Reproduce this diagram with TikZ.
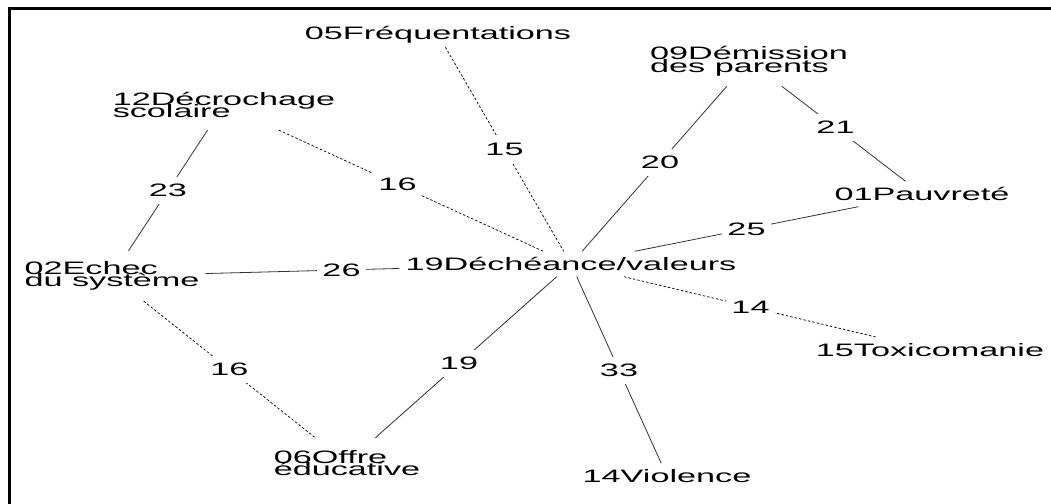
\documentclass[tikz,border=0pt]{standalone}
\usepackage{fontspec}
\setmainfont{Liberation Sans}[FakeStretch=1.9]
\usetikzlibrary{calc}
\newcommand{\diagfont}{\fontsize{18}{12.5}\selectfont\lineskiplimit=-50pt\relax\lineskip=0pt\relax}
\begin{document}
\begin{tikzpicture}[x=1pt,y=-1pt,
  txtfont/.style={font={\diagfont}},
  vtx/.style={txtfont, inner xsep=6pt, inner ysep=0pt, minimum height=25pt},
  vtxtwo/.style={vtx, align=left, minimum height=50pt},
  lab/.style={txtfont, fill=white, inner xsep=5pt, inner ysep=0pt, minimum height=27pt},
  solidedge/.style={draw=black!80, line width=0.8pt},
  dotedge/.style={draw=black, line width=0.7pt, dash pattern=on 2.5pt off 2pt},
  frameline/.style={line width=3pt, line cap=rect}]
\useasboundingbox (0,0) rectangle (1051,503);
\draw[frameline] (9.5,510) -- (9.5,8.7) -- (1060,8.7);

\node[vtx] (fre) at (438,34.5) {05Fréquentations};
\node[vtxtwo] (dem) at (749,61) {09Démission\\des parents};
\node[vtxtwo] (dec) at (224,105) {12Décrochage\\scolaire};
\node[vtx] (pau) at (922,194) {01Pauvreté};
\node[vtxtwo] (ech) at (112,276) {02Echec\\du système};
\node[vtx] (dech) at (571,264) {19Déchéance/valeurs};
\node[vtx] (tox) at (930,350) {15Toxicomanie};
\node[vtx] (vio) at (667,476) {14Violence};
\node[vtxtwo] (off) at (347,463) {06Offre\\éducative};

\draw[solidedge] (dec) -- (ech);
\draw[dotedge] (dec) -- (dech);
\draw[dotedge] (fre) -- (dech);
\draw[solidedge] (dem) -- (dech);
\draw[solidedge] (dem) -- (pau);
\draw[solidedge] (pau) -- (dech);
\draw[solidedge] (ech) -- (dech);
\draw[dotedge] (ech) -- (off);
\draw[solidedge] (off) -- (dech);
\draw[solidedge] (dech) -- (vio);
\draw[dotedge] (dech) -- (tox);

\node[lab] (l23) at ($(dec.center)!0.5!(ech.center)$) {23};
\node[lab] (l16a) at ($(dec.center)!0.5!(dech.center)$) {16};
\node[lab] (l15) at ($(fre.center)!0.5!(dech.center)$) {15};
\node[lab] (l20) at ($(dem.center)!0.5!(dech.center)$) {20};
\node[lab] (l21) at ($(dem.center)!0.5!(pau.center)$) {21};
\node[lab] (l25) at ($(pau.center)!0.5!(dech.center)$) {25};
\node[lab] (l26) at ($(ech.center)!0.5!(dech.center)$) {26};
\node[lab] (l16b) at ($(ech.center)!0.5!(off.center)$) {16};
\node[lab] (l19) at ($(off.center)!0.5!(dech.center)$) {19};
\node[lab] (l33) at ($(dech.center)!0.5!(vio.center)$) {33};
\node[lab] (l14) at ($(dech.center)!0.5!(tox.center)$) {14};
\end{tikzpicture}
\end{document}
